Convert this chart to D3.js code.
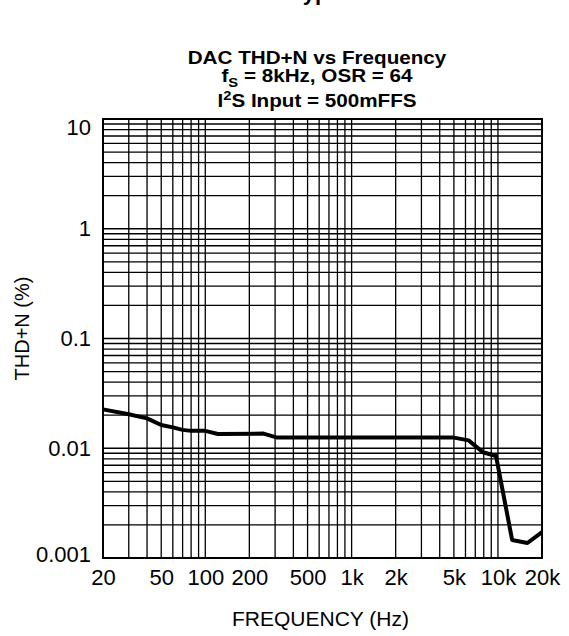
<!DOCTYPE html>
<html>
<head>
<meta charset="utf-8">
<script src="https://cdn.jsdelivr.net/npm/d3@7"></script>
<style>
    body { margin: 0; background: #fff; }
    text { font-family: "Liberation Sans", Arial, Helvetica, sans-serif; fill: #000; }
</style>
</head>
<body>
<svg id="chart" width="569" height="636"></svg>
<script>
// data
const freqHz = [20, 30, 40, 50, 60, 70, 80, 100, 122, 250, 310, 500, 1000, 2000, 5000, 6300, 7900, 9700, 12500, 15900, 20000];
const thdnPct = [0.0226, 0.0204, 0.0187, 0.0163, 0.0155, 0.0147, 0.0144, 0.0144, 0.0135, 0.0136, 0.0125, 0.0125, 0.0125, 0.0125, 0.0125, 0.0118, 0.0092, 0.0085, 0.00146, 0.00137, 0.00172];

const xTickValues = [20, 50, 100, 200, 500, 1000, 2000, 5000, 10000, 20000];
const xTickLabels = ["20", "50", "100", "200", "500", "1k", "2k", "5k", "10k", "20k"];
const yTickValues = [10, 1, 0.1, 0.01, 0.001];
const yTickLabels = ["10", "1", "0.1", "0.01", "0.001"];

const pageTitle = "Typical Performance Characteristics";
const xLabel = "FREQUENCY (Hz)";
const yLabel = "THD+N (%)";

function drawThdChart(graphId) {

    const _width = +document.getElementById(graphId).getAttribute("width"),
        _height = +document.getElementById(graphId).getAttribute("height"),
        margin = { top: 119, right: 27, bottom: 78, left: 103 },
        width = _width - margin.left - margin.right,
        height = _height - margin.top - margin.bottom;

    const root = d3.select("#" + graphId);

    // 1. page header, cut off at the top edge (as in the source page)
    root.append("text")
        .attr("x", 291)
        .attr("y", 0)
        .attr("font-size", "22px")
        .attr("font-weight", "bold")
        .text(pageTitle);

    // 2. chart title, 3 lines (stretched bold face)
    const titleX = 317;
    root.append("text")
        .attr("transform", "translate(" + titleX + ",64) scale(1.18,1)")
        .attr("text-anchor", "middle")
        .attr("font-size", "17.5px")
        .attr("font-weight", "bold")
        .text("DAC THD+N vs Frequency");

    const t2 = root.append("text")
        .attr("transform", "translate(" + titleX + ",82) scale(1.18,1)")
        .attr("text-anchor", "middle")
        .attr("font-size", "17.5px")
        .attr("font-weight", "bold");
    t2.append("tspan").text("f");
    t2.append("tspan").attr("dy", 4.5).attr("font-size", "12.5px").text("S");
    t2.append("tspan").attr("dy", -4.5).text(" = 8kHz, OSR = 64");

    const t3 = root.append("text")
        .attr("transform", "translate(" + titleX + ",107) scale(1.18,1)")
        .attr("text-anchor", "middle")
        .attr("font-size", "17.5px")
        .attr("font-weight", "bold");
    t3.append("tspan").text("I");
    t3.append("tspan").attr("dy", -7).attr("font-size", "12.5px").text("2");
    t3.append("tspan").attr("dy", 7).text("S Input = 500mFFS");

    let svg = root.append("g")
        .attr("transform", "translate(" + margin.left + "," + margin.top + ")");

    // Scaling
    let xScale = d3.scaleLog()
        .domain([20, 20000])
        .range([0, width]);

    let yScale = d3.scaleLog()
        .domain([0.001, 10])
        .range([height, 0]);

    // 3. grid lines (1..9 per decade)
    let xGrid = [];
    for (let dec = 10; dec <= 10000; dec *= 10) {
        for (let k = 1; k <= 9; k++) {
            let v = k * dec;
            if (v > 20 && v < 20000) xGrid.push(v);
        }
    }
    let yGrid = [];
    for (let dec = 0.001; dec < 10; dec *= 10) {
        for (let k = 1; k <= 9; k++) {
            let v = +(k * dec).toPrecision(3);
            if (v > 0.001 && v < 10) yGrid.push(v);
        }
    }

    svg.append("g")
        .attr("class", "x-grid")
        .selectAll("line")
        .data(xGrid)
        .enter()
        .append("line")
        .attr("x1", d => xScale(d))
        .attr("x2", d => xScale(d))
        .attr("y1", 0)
        .attr("y2", height)
        .attr("stroke", "#000")
        .attr("stroke-width", 1.3);

    svg.append("g")
        .attr("class", "y-grid")
        .selectAll("line")
        .data(yGrid)
        .enter()
        .append("line")
        .attr("x1", 0)
        .attr("x2", width)
        .attr("y1", d => yScale(d))
        .attr("y2", d => yScale(d))
        .attr("stroke", "#000")
        .attr("stroke-width", 1.3);

    // frame
    svg.append("rect")
        .attr("width", width)
        .attr("height", height)
        .attr("fill", "none")
        .attr("stroke", "#000")
        .attr("stroke-width", 2);

    // 4. axes
    let xAxis = svg.append("g")
        .attr("class", "x-axis")
        .attr("transform", "translate(0," + height + ")")
        .call(d3.axisBottom(xScale)
            .tickValues(xTickValues)
            .tickFormat((d, i) => xTickLabels[i])
            .tickSize(0)
            .tickSizeOuter(0));

    xAxis.selectAll(".domain").remove();
    xAxis.selectAll(".tick text")
        .attr("y", 27)
        .attr("dy", 0)
        .attr("fill", "#000")
        .attr("font-size", "22px")
        .attr("font-family", null);

    let yAxis = svg.append("g")
        .attr("class", "y-axis")
        .call(d3.axisLeft(yScale)
            .tickValues(yTickValues)
            .tickFormat((d, i) => yTickLabels[i])
            .tickSize(0)
            .tickSizeOuter(0));

    yAxis.selectAll(".domain").remove();
    yAxis.selectAll(".tick text")
        .attr("x", -12)
        .attr("fill", "#000")
        .attr("font-size", "22px")
        .attr("font-family", null)
        // end labels sit a bit inside the frame
        .attr("y", d => d === 10 ? 8 : (d === 0.001 ? -4 : 0));

    // axis titles
    svg.append("text")
        .attr("x", width / 2 - 2)
        .attr("y", height + 68)
        .attr("text-anchor", "middle")
        .attr("font-size", "21px")
        .text(xLabel);

    svg.append("text")
        .attr("transform", "translate(" + (-74) + "," + (yScale(0.1) - 10) + ") rotate(-90)")
        .attr("text-anchor", "middle")
        .attr("font-size", "20px")
        .text(yLabel);

    // 5. THD+N curve
    let line = d3.line()
        .x((d, i) => xScale(freqHz[i]))
        .y(d => yScale(d));

    svg.append("path")
        .datum(thdnPct)
        .attr("d", line)
        .attr("fill", "none")
        .attr("stroke", "#000")
        .attr("stroke-width", 4)
        .attr("stroke-linejoin", "round");
}

drawThdChart("chart");
</script>
</body>
</html>
